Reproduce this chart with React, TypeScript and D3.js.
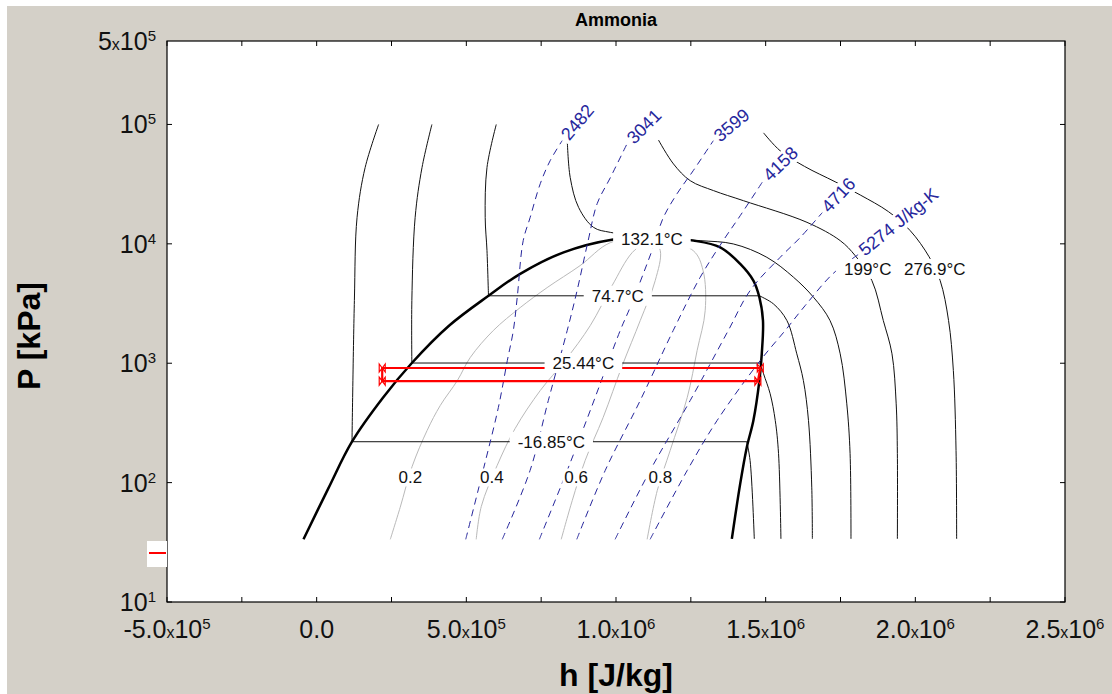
import React from "react";
import * as d3 from "d3";

type Pt = [number, number]; // [h in kJ/kg, P in kPa]

// ---------- data ----------
const titleText = "Ammonia";
const xTickValues = [-5e5, 0, 5e5, 1e6, 1.5e6, 2e6, 2.5e6];
const xTickMant = ["-5.0", "0.0", "5.0", "1.0", "1.5", "2.0", "2.5"];
const xTickExp: (number | null)[] = [5, null, 5, 6, 6, 6, 6];
const yTickValues = [10, 100, 1000, 10000, 100000, 500000];
const yTickMant: (string | null)[] = [null, null, null, null, null, "5"];
const yTickExp = [1, 2, 3, 4, 5, 5];

const dome: Pt[] = [
  [-44, 33.5], [39, 89.4], [118, 220], [222, 516], [318, 1004],
  [443, 2068], [574, 3670], [680, 5610], [825, 8490], [986, 10840], [1120, 11333],
  [1259, 10640], [1348, 9350], [1415, 6790], [1459, 4920], [1479, 3565], [1491, 2277],
  [1487, 1199], [1479, 716], [1459, 332], [1437, 198], [1415, 98], [1387, 33.8],
];

const isoNames = ["-16.85°C", "25.44°C", "74.7°C", "132.1°C", "199°C", "276.9°C"];
const isoLiquid: Pt[][] = [
  [[207, 100000], [162, 43650], [135, 16670], [126, 3350], [118, 220]],
  [[385, 100000], [352, 43650], [329, 16670], [318, 3350], [318, 1004]],
  [[600, 100000], [569, 43650], [563, 16670], [569, 8770], [574, 3670]],
];
const isoVapor: Pt[][] = [
  [[1437, 220], [1448, 153], [1462, 33.8]],
  [[1482, 1004], [1493, 815], [1515, 555], [1532, 332], [1543, 175], [1551, 33.8]],
  [[1479, 3670], [1526, 3140], [1571, 2277], [1604, 1199], [1626, 716], [1643, 332], [1654, 91.6], [1656, 33.8]],
];
const isoSuper: Pt[][] = [
  [[837, 76000], [847, 36000], [875, 20200], [925, 13740], [981, 12480], [1120, 11333],
   [1281, 10640], [1392, 9980], [1504, 7710], [1593, 5250], [1660, 3565], [1715, 2277],
   [1749, 1199], [1771, 457], [1782, 175], [1785, 33.8]],
  [[1142, 74000], [1192, 46700], [1248, 33800], [1326, 27900], [1426, 22970], [1638, 15140],
   [1749, 10640], [1799, 7970], [1855, 4920], [1893, 2277], [1922, 1199], [1936, 457],
   [1940, 175], [1940, 33.8]],
  [[1493, 85000], [1548, 60300], [1630, 44500], [1732, 33100], [1816, 25650], [1910, 18620],
   [1983, 12890], [2046, 7790], [2083, 4920], [2111, 2277], [2127, 869], [2136, 186], [2138, 33.8]],
];
const isoLabelAt: Pt[] = [[784, 220], [891, 1004], [1006, 3670], [1120, 11000], [1841, 6166], [2065, 6166]];

const isentropeNames = ["2482", "3041", "3599", "4158", "4716", "5274 J/kg-K"];
const isentropeAngles = [-50, -45, -40, -44, -47, -39];
const isentropes: Pt[][] = [
  [[498, 33.5], [556, 126.5], [607, 426], [637, 1054], [657, 1878], [670, 3550], [690, 10640],
   [713, 16560], [747, 31900], [780, 49700], [820, 73100]],
  [[620, 33.5], [713, 126.5], [774, 488], [837, 1878], [870, 4060], [907, 10640], [937, 21690],
   [981, 35800], [1037, 69000]],
  [[744, 33.5], [837, 126.5], [914, 402], [1014, 1878], [1047, 2925], [1124, 9330], [1158, 16560],
   [1204, 26300], [1258, 41000], [1325, 73100]],
  [[869, 33.5], [964, 126.5], [1081, 488], [1191, 1878], [1281, 5230], [1358, 10640], [1415, 17220],
   [1492, 33800]],
  [[997, 33.5], [1114, 126.5], [1248, 488], [1375, 1878], [1448, 4060], [1548, 7690], [1615, 11270],
   [1689, 18240]],
  [[1114, 33.5], [1238, 126.5], [1338, 332], [1482, 1054], [1565, 1878], [1632, 3040], [1725, 5630],
   [1809, 8120]],
];

const qualityNames = ["0.2", "0.4", "0.6", "0.8"];
const qualityLines: Pt[][] = [
  [[1120, 11333], [981, 10230], [880, 6570], [770, 4300], [680, 2925], [590, 1878], [513, 1116],
   [470, 716], [413, 443], [369, 273.5], [319, 136.7], [279, 62], [246, 33.5]],
  [[1120, 11333], [1054, 8440], [987, 4470], [914, 2067], [830, 1054], [747, 591], [663, 284],
   [603, 139.3], [550, 63.2], [533, 33.5]],
  [[1120, 11333], [1148, 8770], [1131, 4920], [1081, 2277], [1021, 957], [957, 351], [897, 153.4],
   [854, 71], [817, 33.5]],
  [[1120, 11333], [1258, 8770], [1291, 5970], [1298, 2761], [1271, 1277], [1238, 516], [1181, 186],
   [1138, 86.1], [1104, 33.5]],
];
const qualityLabelAt: Pt[] = [[313, 110.5], [585, 110.5], [867, 110.5], [1148, 110.5]];

const cycle: Pt[] = [[1474, 707], [1482, 912], [219, 912], [219, 707]];

// ---------- layout ----------
const W = 1112, H = 694;
const PL = 167, PT = 41, PR = 1065, PB = 602;
const FONT = "'Liberation Sans', Arial, Helvetica, sans-serif";
const BLUE = "#26269c";

const cw: Record<string, number> = {
  "0": .556, "1": .556, "2": .556, "3": .556, "4": .556, "5": .556, "6": .556, "7": .556, "8": .556, "9": .556,
  ".": .278, "°": .4, "C": .722, "-": .333, " ": .278, "J": .5, "/": .278, "k": .5, "g": .556, "K": .667,
};
const textW = (s: string, fs: number) => s.split("").reduce((a, c) => a + (cw[c] ?? .556), 0) * fs;

export default function App() {
  const x = d3.scaleLinear().domain([-5e5, 2.5e6]).range([PL, PR]);
  const y = d3.scaleLog().domain([10, 5e5]).range([PB, PT]);
  const px = (d: Pt) => x(d[0] * 1000);
  const py = (d: Pt) => y(d[1]);
  const smooth = d3.line<Pt>().x(px).y(py).curve(d3.curveCatmullRom.alpha(0.5));
  const straight = d3.line<Pt>().x(px).y(py);

  const minorX = d3.range(-5e5, 2.5e6 + 1, 2.5e5);
  const decadesY = [10, 100, 1000, 10000, 100000];

  return (
    <svg width={W} height={H} style={{ position: "absolute", left: 0, top: 0, background: "#fff" }}
      fontFamily={FONT}>
      <rect x={7} y={6} width={W - 7} height={H - 6} fill="#d4d0c8" />
      <rect x={PL} y={PT} width={PR - PL} height={PB - PT} fill="#fff" />

      {/* quality lines */}
      {qualityLines.map((q, i) => (
        <path key={"q" + i} d={smooth(q) || ""} fill="none" stroke="#b9b9b9" strokeWidth={1} />
      ))}

      {/* isotherms */}
      {isoLiquid.map((liq, i) => (
        <g key={"it" + i} fill="none" stroke="#111" strokeWidth={1}>
          <path d={smooth(liq) || ""} />
          <path d={straight([liq[liq.length - 1], isoVapor[i][0]]) || ""} />
          <path d={smooth(isoVapor[i]) || ""} />
        </g>
      ))}
      {isoSuper.map((s, i) => (
        <path key={"is" + i} d={smooth(s) || ""} fill="none" stroke="#111" strokeWidth={1} />
      ))}

      {/* saturation dome */}
      <path d={smooth(dome) || ""} fill="none" stroke="#000" strokeWidth={2.5} />

      {/* isentropes */}
      {isentropes.map((s, i) => (
        <path key={"s" + i} d={smooth(s) || ""} fill="none" stroke={BLUE} strokeWidth={1}
          strokeDasharray="7,5" />
      ))}

      {/* refrigeration cycle */}
      <path d={(straight(cycle) || "") + "Z"} fill="none" stroke="#ff0000" strokeWidth={2.2} />
      {cycle.map((c, i) => (
        <path key={"m" + i} transform={`translate(${px(c)},${py(c)})`} d="M-3,-4L3,4L3,-4L-3,4Z"
          fill="none" stroke="#ff0000" strokeWidth={1.2} />
      ))}

      {/* isentrope labels */}
      {isentropes.map((s, i) => {
        const e = s[s.length - 1];
        const w = textW(isentropeNames[i], 18);
        return (
          <g key={"sl" + i} transform={`translate(${px(e)},${py(e)}) rotate(${isentropeAngles[i]})`}>
            <rect x={1} y={-9} width={w + 7} height={19} fill="#fff" />
            <text x={4} y={6} fontSize={18} fill={BLUE}>{isentropeNames[i]}</text>
          </g>
        );
      })}

      {/* isotherm labels */}
      {isoLabelAt.map((p, i) => {
        const w = textW(isoNames[i], 17) + 16;
        return (
          <g key={"il" + i}>
            <rect x={px(p) - w / 2} y={py(p) - 10} width={w} height={20} fill="#fff" />
            <text x={px(p)} y={py(p) + 6} fontSize={17} textAnchor="middle" fill="#111">{isoNames[i]}</text>
          </g>
        );
      })}

      {/* quality labels */}
      {qualityLabelAt.map((p, i) => {
        const w = textW(qualityNames[i], 17) + 4;
        return (
          <g key={"ql" + i}>
            <rect x={px(p) - w / 2} y={py(p) - 9} width={w} height={18} fill="#fff" />
            <text x={px(p)} y={py(p) + 6} fontSize={17} textAnchor="middle" fill="#111">{qualityNames[i]}</text>
          </g>
        );
      })}

      {/* frame and ticks */}
      <rect x={PL} y={PT} width={PR - PL} height={PB - PT} fill="none" stroke="#000" strokeWidth={1.2} />
      {minorX.map((v, i) => (
        <g key={"xt" + i} stroke="#000" strokeWidth={1}>
          <line x1={x(v)} x2={x(v)} y1={PB} y2={PB - 5} />
          <line x1={x(v)} x2={x(v)} y1={PT} y2={PT + 5} />
        </g>
      ))}
      {decadesY.map((v, i) => (
        <g key={"yt" + i} stroke="#000" strokeWidth={1}>
          <line x1={PL} x2={PL + 5} y1={y(v)} y2={y(v)} />
          <line x1={PR} x2={PR - 5} y1={y(v)} y2={y(v)} />
        </g>
      ))}

      {/* x tick labels */}
      {xTickValues.map((v, i) => (
        <text key={"xl" + i} x={x(v)} y={638} fontSize={25} textAnchor="middle" fill="#111">
          {xTickMant[i]}
          {xTickExp[i] !== null && (
            <>
              <tspan fontSize={16}>x</tspan>
              <tspan>10</tspan>
              <tspan fontSize={15} dy={-9}>{xTickExp[i]}</tspan>
            </>
          )}
        </text>
      ))}

      {/* y tick labels */}
      {yTickValues.map((v, i) => (
        <text key={"yl" + i} x={156} y={y(v) + 9} fontSize={25} textAnchor="end" fill="#111">
          {yTickMant[i] !== null && (
            <>
              <tspan>{yTickMant[i]}</tspan>
              <tspan fontSize={16}>x</tspan>
            </>
          )}
          <tspan>10</tspan>
          <tspan fontSize={15} dy={-9}>{yTickExp[i]}</tspan>
        </text>
      ))}

      {/* titles */}
      <text x={616} y={26} fontSize={18} fontWeight="bold" textAnchor="middle" fill="#000">{titleText}</text>
      <text x={616} y={686} fontSize={32} fontWeight="bold" textAnchor="middle" fill="#000">h [J/kg]</text>
      <text transform="translate(40,336) rotate(-90)" fontSize={32} fontWeight="bold" textAnchor="middle"
        fill="#000">P [kPa]</text>

      {/* legend fragment */}
      <rect x={147} y={541} width={20} height={26} fill="#fff" />
      <line x1={149} x2={166} y1={553} y2={553} stroke="#ff0000" strokeWidth={2} />
    </svg>
  );
}
